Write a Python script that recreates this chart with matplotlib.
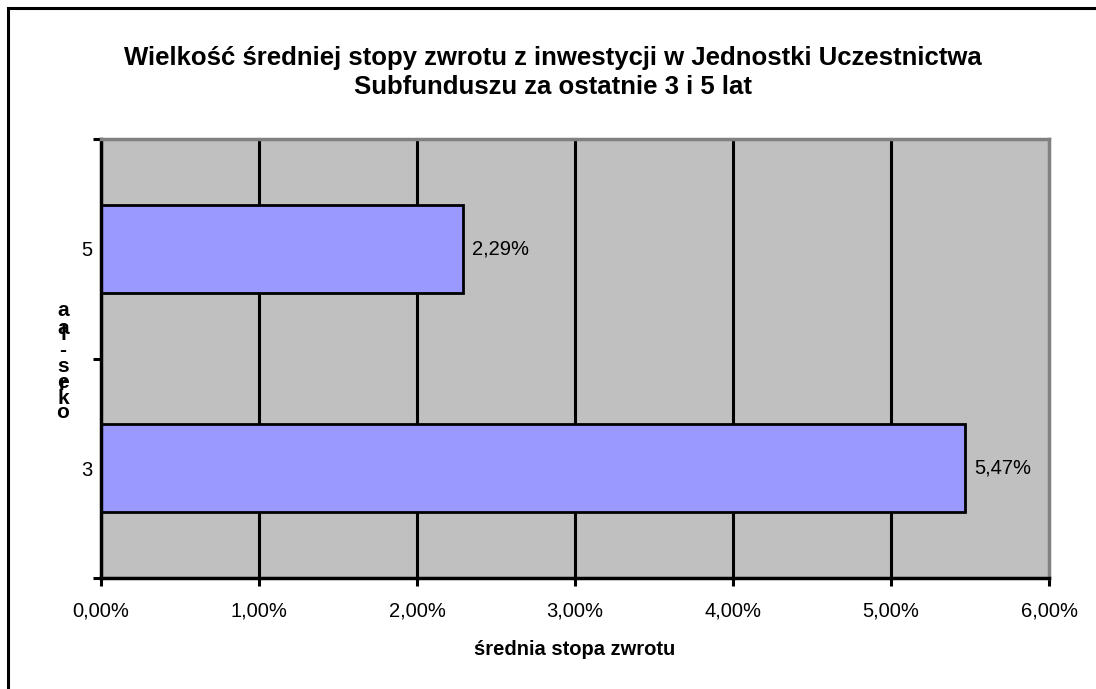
import matplotlib.pyplot as plt
from matplotlib.patches import Rectangle

plt.rcParams['font.family'] = ['Liberation Sans', 'DejaVu Sans']

periods = ['3', '5']
returns = [5.47, 2.29]
value_labels = ['5,47%', '2,29%']
x_ticks = [0, 1, 2, 3, 4, 5, 6]
x_tick_labels = ['0,00%', '1,00%', '2,00%', '3,00%', '4,00%', '5,00%', '6,00%']
# garbled vertical axis title, stacked characters as seen in the original
ylabel_chars = ['a', 'a', 'l', '-', 's', 'e', 'r', 'k', 'o']
ylabel_ypix = [311, 328, 334, 351, 367, 382, 384, 398, 412]

W, H = 1096, 689
fig = plt.figure(figsize=(W / 100, H / 100), dpi=100)
fig.patches.append(Rectangle((8 / W, -0.1), 1.2, (H - 8) / H + 0.1, transform=fig.transFigure,
                             fill=False, edgecolor='black', linewidth=2.2))

ax = fig.add_axes([101 / W, 111 / H, 948 / W, 439 / H])
ax.set_facecolor('#c0c0c0')
ax.set_xlim(0, 6)
ax.set_ylim(-0.5, 1.5)

for x in x_ticks[1:-1]:
    ax.axvline(x, color='black', linewidth=2.2, zorder=1)

ypos = list(range(len(periods)))
ax.barh(ypos, returns, height=0.4, color='#9999ff', edgecolor='black', linewidth=2, zorder=2)
for y, v, lab in zip(ypos, returns, value_labels):
    ax.text(v + 0.06, y, lab, va='center', ha='left', fontsize=14.5, zorder=3)

ax.set_xticks(x_ticks)
ax.set_xticklabels(x_tick_labels, fontsize=14.5)
ax.set_yticks([-0.5, 0.5, 1.5])
ax.set_yticklabels([])
ax.set_yticks(ypos, minor=True)
ax.set_yticklabels(periods, minor=True, fontsize=14.5)
ax.tick_params(axis='y', which='minor', length=0, pad=6)
ax.tick_params(axis='y', which='major', length=6, width=2.2, direction='out')
ax.tick_params(axis='x', length=6, width=2.2, direction='out', pad=11)

for s in ['left', 'bottom']:
    ax.spines[s].set_linewidth(2.5)
    ax.spines[s].set_color('black')
for s in ['top', 'right']:
    ax.spines[s].set_linewidth(2.5)
    ax.spines[s].set_color('#808080')

ax.set_xlabel('średnia stopa zwrotu', fontsize=14.5, fontweight='bold', labelpad=14)

for ch, yp in zip(ylabel_chars, ylabel_ypix):
    fig.text(63 / W, 1 - yp / H, ch, ha='center', va='center', fontsize=15, fontweight='bold')

fig.text(553 / W, 1 - 58 / H, 'Wielkość średniej stopy zwrotu z inwestycji w Jednostki Uczestnictwa',
         ha='center', va='center', fontsize=18.5, fontweight='bold')
fig.text(553 / W, 1 - 87 / H, 'Subfunduszu za ostatnie 3 i 5 lat',
         ha='center', va='center', fontsize=18.5, fontweight='bold')

fig.savefig('out.png', dpi=100)
